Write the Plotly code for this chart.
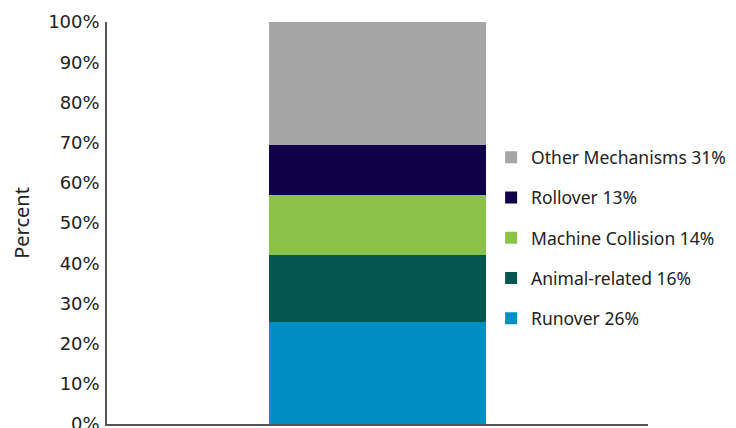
import plotly.graph_objects as go

categories = ["All"]
series_names = ["Runover 26%", "Animal-related 16%", "Machine Collision 14%", "Rollover 13%", "Other Mechanisms 31%"]
series_values = [25.4, 16.6, 14.9, 12.4, 30.7]
series_colors = ["#008FC4", "#04564F", "#8BC34A", "#10004A", "#A6A6A6"]
y_ticks = [0, 10, 20, 30, 40, 50, 60, 70, 80, 90, 100]
y_tick_labels = [f"{v}%" for v in y_ticks]

fig = go.Figure()
n = len(series_names)
for i, (name, val, col) in enumerate(zip(series_names, series_values, series_colors)):
    fig.add_trace(go.Bar(
        x=categories, y=[val], name=name, marker=dict(color=col, line=dict(width=0)),
        width=0.4, legendgroup=f"g{n - i}", legendrank=n - i, hoverinfo="skip",
    ))

fig.update_layout(
    width=736, height=428,
    barmode="stack",
    plot_bgcolor="white", paper_bgcolor="white",
    margin=dict(l=99, r=96, t=14, b=12, autoexpand=False),
    font=dict(family="DejaVu Sans", color="#222222"),
    legend=dict(
        x=0.71, xanchor="left", y=0.708, yanchor="top",
        traceorder="grouped", tracegroupgap=14.5,
        font=dict(family="Noto Sans", size=17.5, color="#222222"),
        bgcolor="rgba(0,0,0,0)",
    ),
    showlegend=True,
)
fig.update_xaxes(
    showline=True, linecolor="#555555", linewidth=1.5,
    showticklabels=False, ticks="", range=[-0.5, 0.5], showgrid=False, zeroline=False,
)
fig.update_yaxes(
    range=[0, 100], tickvals=y_ticks, ticktext=y_tick_labels, tickmode="array",
    showline=True, linecolor="#555555", linewidth=1.5,
    showgrid=False, zeroline=False, ticks="", ticklen=0, ticklabelstandoff=2,
    tickfont=dict(family="DejaVu Sans", size=18, color="#222222"),
    title=dict(text="Percent", font=dict(family="Noto Sans", size=20, color="#222222"), standoff=17),
)

fig.write_html("out.html")
